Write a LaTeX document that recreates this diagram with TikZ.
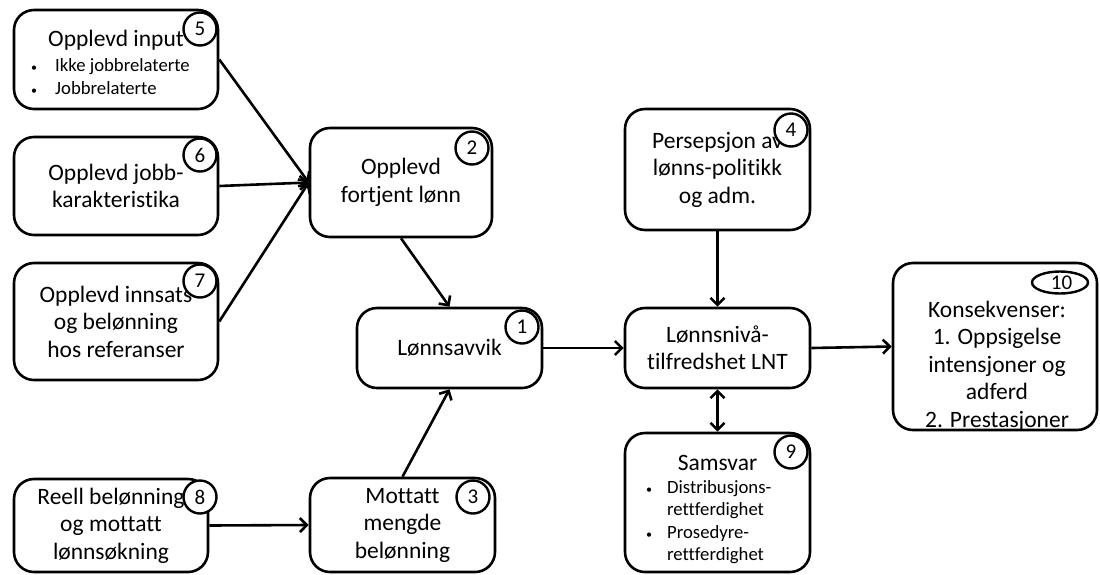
\documentclass[tikz,border=0pt]{standalone}
\usepackage{fontspec}
\setmainfont[Ligatures=NoCommon]{Carlito}
\usetikzlibrary{arrows.meta,shapes.geometric}
\newcommand{\dotmark}{{\fontsize{12}{12}\selectfont\textbullet}}
\begin{document}
\begin{tikzpicture}[x=1pt,y=-1pt,
  box/.style={draw,line width=2.6pt,rounded corners=20pt,inner sep=0pt,align=center,
    font=\fontsize{23.5}{27.5}\selectfont},
  num/.style={circle,draw,fill=white,line width=2.4pt,minimum size=33pt,inner sep=0pt,
    font=\fontsize{21}{24}\selectfont},
  numwide/.style={ellipse,draw,fill=white,line width=2.4pt,minimum width=56pt,minimum height=22pt,
    inner sep=0pt,font=\fontsize{21}{24}\selectfont},
  txt/.style={inner sep=0pt,align=center,font=\fontsize{23.5}{27.5}\selectfont},
  small/.style={inner sep=0pt,align=left,font=\fontsize{18.7}{22.5}\selectfont},
  tip/.tip={Straight Barb[length=7pt,width=14pt,line width=2.6pt]},
  conn/.style={line width=2.6pt,-tip},
  both/.style={line width=2.6pt,tip-tip}
]
\useasboundingbox (0,0) rectangle (1100,574);

% left column: inputs to perceived deserved pay
\node[box,minimum width=204pt,minimum height=99pt] (b5) at (116,59.5) {};
\node[txt] (t5) at (116,40) {Opplevd input};
\node[small,anchor=west] (l5) at (31,76.5)
  {\makebox[24pt][l]{\dotmark}Ikke jobbrelaterte\\\makebox[24pt][l]{\dotmark}Jobbrelaterte};
\node[box,minimum width=204pt,minimum height=98pt] (b6) at (116,186) {Opplevd jobb-\\karakteristika};
\node[box,minimum width=204pt,minimum height=117pt] (b7) at (116,321.5)
  {Opplevd innsats\\og belønning\\hos referanser};
\node[box,minimum width=194pt,minimum height=93pt] (b8) at (111,525.5)
  {Reell belønning\\og mottatt\\lønnsøkning};

% middle column
\node[box,minimum width=182pt,minimum height=109pt] (b2) at (401,182.5) {Opplevd\\fortjent lønn};
\node[box,minimum width=185pt,minimum height=80pt] (b1) at (449.5,348) {Lønnsavvik};
\node[box,minimum width=185pt,minimum height=94pt] (b3) at (402.5,525) {Mottatt\\mengde\\belønning};

% right-middle column
\node[box,minimum width=185pt,minimum height=121pt] (b4) at (717.5,169.5)
  {Persepsjon av\\lønns-politikk\\og adm.};
\node[box,minimum width=185pt,minimum height=80pt] (bL) at (717.5,348)
  {Lønnsnivå-\\tilfredshet LNT};
\node[box,minimum width=185pt,minimum height=139pt] (b9) at (717.5,502.5) {};
\node[txt] (t9) at (717.5,463) {Samsvar};
\node[small,anchor=west] (l9) at (646,522)
  {\makebox[21pt][l]{\dotmark}Distribusjons-\\\hspace*{21pt}rettferdighet\\
   \makebox[21pt][l]{\dotmark}Prosedyre-\\\hspace*{21pt}rettferdighet};

% outcome box
\node[box,minimum width=204pt,minimum height=167pt] (b10) at (995,346.5) {};
\node[txt] (t10) at (997,366)
  {Konsekvenser:\\1. Oppsigelse\\intensjoner og\\adferd\\2. Prestasjoner};

% numbered badges
\node[num] (c5) at (200,29) {5};
\node[num] (c6) at (200,155) {6};
\node[num] (c7) at (200,281) {7};
\node[num] (c8) at (200,497) {8};
\node[num] (c2) at (472,148) {2};
\node[num] (c1) at (522,327) {1};
\node[num] (c3) at (473,497) {3};
\node[num] (c4) at (791,130) {4};
\node[num] (c9) at (791,452) {9};
\node[numwide] (c10) at (1060,282.5) {\hspace*{3pt}10};

% connectors
\draw[conn] (b5.east) -- (b2.west);
\draw[conn] (b6.east) -- (b2.west);
\draw[conn] (b7.east) -- (b2.west);
\draw[conn] (b2.south) -- (b1.north);
\draw[conn] (b3.north) -- (b1.south);
\draw[conn] (b8.east) -- (b3.west);
\draw[conn] (b1.east) -- (bL.west);
\draw[conn] (b4.south) -- (bL.north);
\draw[both] (bL.south) -- (b9.north);
\draw[conn] (bL.east) -- (b10.west);
\end{tikzpicture}
\end{document}
